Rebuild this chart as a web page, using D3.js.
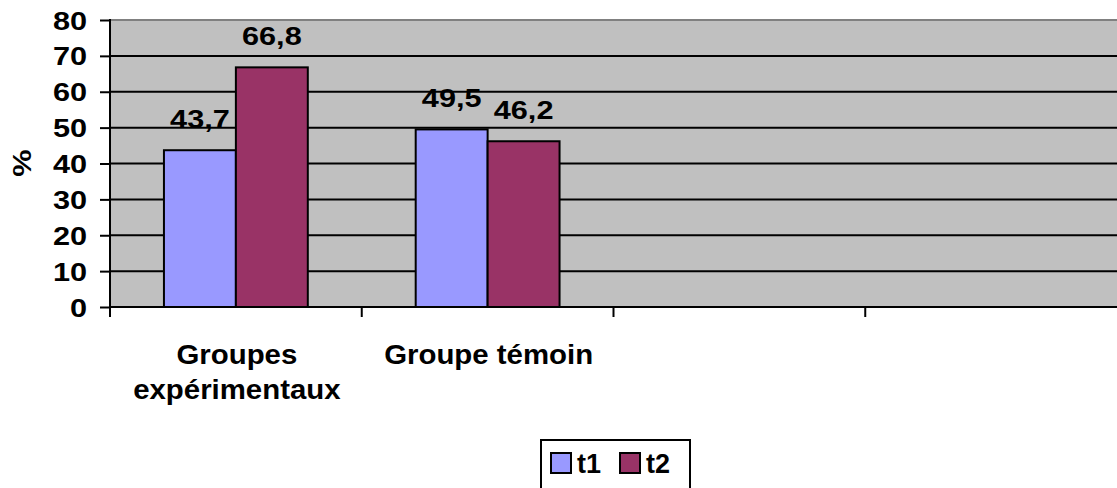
<!DOCTYPE html>
<html>
<head>
<meta charset="utf-8">
<script src="https://cdn.jsdelivr.net/npm/d3@7"></script>
<style>
  html, body { margin: 0; padding: 0; background: #fff; }
  svg { display: block; }
  text { font-family: Arial, "Liberation Sans", sans-serif; font-weight: bold; fill: #000; }
</style>
</head>
<body>
<svg id="chart" width="1117" height="488"></svg>
<script>
// Category labels (two empty slots on the right of the axis)
const categories = ["Groupes expérimentaux", "Groupe témoin", "", ""];
const seriesNames = ["t1", "t2"];
const t1Values = [43.7, 49.5, null, null];
const t2Values = [66.8, 46.2, null, null];
const yTicks = [0, 10, 20, 30, 40, 50, 60, 70, 80];
const seriesColors = ["#9999FF", "#993366"];
const yTitle = "%";

const svg = d3.select("#chart");
const plot = { left: 110, right: 1117, top: 20, bottom: 307 };

const x = d3.scaleBand()
  .domain(d3.range(categories.length))
  .range([plot.left, plot.right])
  .paddingInner(0).paddingOuter(0);

const y = d3.scaleLinear().domain([0, 80]).range([plot.bottom, plot.top]);

// bar width: two bars per category with a 150% gap
const barW = x.bandwidth() / 3.5;
const sub = d3.scaleBand().domain(seriesNames).range([0, barW * 2]);

// plot background
svg.append("rect")
  .attr("x", plot.left).attr("y", plot.top)
  .attr("width", plot.right - plot.left).attr("height", plot.bottom - plot.top)
  .attr("fill", "#C0C0C0");

// top border
svg.append("line")
  .attr("x1", plot.left).attr("x2", plot.right)
  .attr("y1", y(80)).attr("y2", y(80))
  .attr("stroke", "#808080").attr("stroke-width", 2);

// horizontal grid lines
svg.append("g").selectAll("line")
  .data(yTicks.filter(d => d > 0 && d < 80))
  .join("line")
  .attr("x1", plot.left).attr("x2", plot.right)
  .attr("y1", d => y(d)).attr("y2", d => y(d))
  .attr("stroke", "#000").attr("stroke-width", 2);

// bars
const rows = categories.map((c, i) => ({ i, values: [t1Values[i], t2Values[i]] }));
const groups = svg.append("g").selectAll("g")
  .data(rows)
  .join("g")
  .attr("transform", d => `translate(${x(d.i) + (x.bandwidth() - barW * 2) / 2},0)`);

groups.selectAll("rect")
  .data(d => d.values.map((v, k) => ({ v, s: seriesNames[k], k })).filter(e => e.v != null))
  .join("rect")
  .attr("x", e => sub(e.s))
  .attr("width", sub.bandwidth())
  .attr("y", e => y(e.v))
  .attr("height", e => y(0) - y(e.v))
  .attr("fill", e => seriesColors[e.k])
  .attr("stroke", "#000").attr("stroke-width", 2);

// value labels
const numSize = 26, numScale = 1.18;
groups.selectAll("text.val")
  .data(d => d.values.map((v, k) => ({ v, s: seriesNames[k], k })).filter(e => e.v != null))
  .join("text")
  .attr("class", "val")
  .attr("text-anchor", "middle")
  .attr("font-size", numSize)
  .attr("transform", e => `translate(${sub(e.s) + sub.bandwidth() / 2},${y(e.v) - 22}) scale(${numScale},1)`)
  .text(e => d3.format(".1f")(e.v).replace(".", ","));

// y axis
const yAxis = d3.axisLeft(y).tickValues(yTicks).tickSize(10).tickSizeOuter(0).tickFormat(d3.format("d"));
const gy = svg.append("g").attr("transform", `translate(${plot.left},0)`).call(yAxis);
gy.select(".domain").remove();
gy.selectAll(".tick line").attr("stroke", "#000").attr("stroke-width", 2);
gy.selectAll(".tick text")
  .attr("font-size", numSize).attr("x", 0).attr("dy", 0)
  .attr("text-anchor", "end")
  .attr("transform", `translate(-23,9) scale(${numScale},1)`);

svg.append("line")
  .attr("x1", plot.left).attr("x2", plot.left)
  .attr("y1", plot.top - 1).attr("y2", plot.bottom + 10)
  .attr("stroke", "#000").attr("stroke-width", 2);

// x axis
svg.append("line")
  .attr("x1", plot.left).attr("x2", plot.right)
  .attr("y1", plot.bottom).attr("y2", plot.bottom)
  .attr("stroke", "#000").attr("stroke-width", 2);

svg.append("g").selectAll("line")
  .data(d3.range(1, categories.length))
  .join("line")
  .attr("x1", i => x(i)).attr("x2", i => x(i))
  .attr("y1", plot.bottom).attr("y2", plot.bottom + 10)
  .attr("stroke", "#000").attr("stroke-width", 2);

// category labels (wrapped)
const wrapLines = { "Groupes expérimentaux": ["Groupes", "expérimentaux"] };
const cat = svg.append("g").selectAll("text")
  .data(rows.filter(d => categories[d.i] !== ""))
  .join("text")
  .attr("text-anchor", "middle")
  .attr("font-size", 28)
  .attr("transform", d => `translate(${x(d.i) + x.bandwidth() / 2 + 1},364) scale(1.05,1)`);
cat.each(function (d) {
  const lines = wrapLines[categories[d.i]] || [categories[d.i]];
  d3.select(this).selectAll("tspan").data(lines).join("tspan")
    .attr("x", 0).attr("y", (l, k) => k * 35).text(l => l);
});

// y title
svg.append("text")
  .attr("text-anchor", "middle")
  .attr("font-size", numSize)
  .attr("transform", `translate(31,163) rotate(-90) scale(${numScale},1)`)
  .text(yTitle);

// legend
const lg = svg.append("g");
lg.append("rect")
  .attr("x", 541).attr("y", 440).attr("width", 149).attr("height", 70)
  .attr("fill", "#fff").attr("stroke", "#000").attr("stroke-width", 2);
const items = lg.selectAll("g.item")
  .data(seriesNames)
  .join("g")
  .attr("class", "item")
  .attr("transform", (d, k) => `translate(${551 + k * 69},453)`);
items.append("rect")
  .attr("width", 20).attr("height", 20)
  .attr("fill", (d, k) => seriesColors[k])
  .attr("stroke", "#000").attr("stroke-width", 2);
items.append("text")
  .attr("x", 26).attr("y", 20)
  .attr("font-size", 27)
  .text(d => d);
</script>
</body>
</html>
